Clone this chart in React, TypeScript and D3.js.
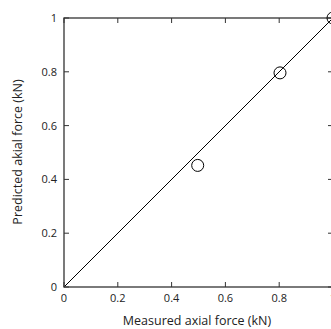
import React from "react";
import * as d3 from "d3";

const xTicks = [0, 0.2, 0.4, 0.6, 0.8, 1];
const yTicks = [0, 0.2, 0.4, 0.6, 0.8, 1];
const measured = [0.497, 0.803, 1.0];
const predicted = [0.452, 0.796, 1.0];
const fitLine = [0, 1];

export default function App() {
  const W = 331, H = 329;
  const m = { left: 64, top: 18, right: 333, bottom: 287 };
  const x = d3.scaleLinear().domain([0, 1]).range([m.left, m.right]);
  const y = d3.scaleLinear().domain([0, 1]).range([m.bottom, m.top]);
  const font = "'Open Sans', 'Liberation Sans', sans-serif";
  const tl = 5;
  const line = d3.line<number>().x((d) => x(d)).y((d) => y(d));
  const axisColor = "#333";
  return (
    <svg width={W} height={H} style={{ position: "absolute", left: 0, top: 0 }} fontFamily={font}>
      <rect width={W} height={H} fill="#fff" />
      <path d={line(fitLine) || ""} stroke="#000" strokeWidth={1} fill="none" />
      <rect x={m.left} y={m.top} width={m.right - m.left} height={m.bottom - m.top} fill="none" stroke={axisColor} strokeWidth={1.3} />
      {xTicks.map((t, i) => (
        <g key={"x" + i}>
          <line x1={x(t)} x2={x(t)} y1={m.bottom} y2={m.bottom - tl} stroke={axisColor} strokeWidth={1} />
          <line x1={x(t)} x2={x(t)} y1={m.top} y2={m.top + tl} stroke={axisColor} strokeWidth={1} />
          <text x={x(t)} y={302} fontSize={11} textAnchor="middle" fill="#222">{d3.format("~g")(t)}</text>
        </g>
      ))}
      {yTicks.map((t, i) => (
        <g key={"y" + i}>
          <line x1={m.left} x2={m.left + tl} y1={y(t)} y2={y(t)} stroke={axisColor} strokeWidth={1} />
          <line x1={m.right} x2={m.right - tl} y1={y(t)} y2={y(t)} stroke={axisColor} strokeWidth={1} />
          <text x={57} y={y(t) + 4} fontSize={11} textAnchor="end" fill="#222">{d3.format("~g")(t)}</text>
        </g>
      ))}
      {measured.map((v, i) => (
        <circle key={"p" + i} cx={x(v)} cy={y(predicted[i])} r={6} fill="none" stroke="#000" strokeWidth={1} />
      ))}
      <text x={197} y={325} fontSize={12.5} textAnchor="middle" fill="#222">Measured axial force (kN)</text>
      <text transform={`translate(22,${152}) rotate(-90)`} fontSize={12.5} textAnchor="middle" fill="#222">Predicted akial force (kN)</text>
    </svg>
  );
}
